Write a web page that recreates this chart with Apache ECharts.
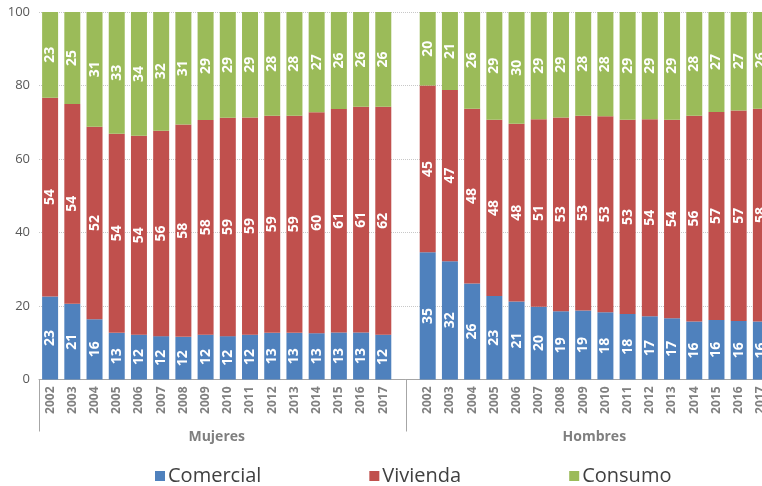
<!DOCTYPE html>
<html>
<head>
<meta charset="utf-8">
<script src="https://cdn.jsdelivr.net/npm/echarts@6/dist/echarts.min.js"></script>
<style>
  html, body { margin: 0; padding: 0; background: #fff; overflow: hidden; }
  /* el gráfico original está recortado por la derecha */
  #chart { width: 772px; height: 486px; }
</style>
</head>
<body>
<div id="chart"></div>
<script>
// años (eje de categorías) y grupos
const years = ['2002', '2003', '2004', '2005', '2006', '2007', '2008', '2009',
  '2010', '2011', '2012', '2013', '2014', '2015', '2016', '2017']
const groups = ['Mujeres', 'Hombres']
const seriesNames = ['Comercial', 'Vivienda', 'Consumo']
const yTicks = [0, 20, 40, 60, 80, 100]

// % del saldo
const mujComercial = [22.6, 20.6, 16.4, 12.7, 12.2, 11.8, 11.6, 12.2, 11.8, 12.2, 12.7, 12.7, 12.6, 12.8, 12.8, 12.2]
const mujVivienda = [54.1, 54.4, 52.4, 54.2, 54.1, 55.9, 57.8, 58.4, 59.4, 59.1, 59.1, 59.1, 60.1, 60.8, 61.4, 62.0]
const mujConsumo = [23.3, 25.0, 31.2, 33.1, 33.7, 32.3, 30.6, 29.4, 28.8, 28.7, 28.2, 28.2, 27.3, 26.4, 25.8, 25.8]

const homComercial = [34.6, 32.2, 26.1, 22.7, 21.2, 19.8, 18.6, 18.8, 18.3, 17.8, 17.2, 16.7, 15.8, 16.2, 15.9, 15.8]
const homVivienda = [45.4, 46.6, 47.6, 48.0, 48.4, 51.0, 52.7, 53.0, 53.3, 52.9, 53.6, 54.0, 56.0, 56.6, 57.3, 57.9]
const homConsumo = [20.0, 21.2, 26.3, 29.3, 30.4, 29.2, 28.7, 28.2, 28.4, 29.3, 29.2, 29.3, 28.2, 27.2, 26.8, 26.3]

const colors = ['#4f81bd', '#c0504d', '#9bbb59']
const font = 'Open Sans'

// un hueco entre los dos grupos
const categories = [...years, '', ...years]
const join = (a, b) => [...a, '-', ...b]
const seriesData = [
  join(mujComercial, homComercial),
  join(mujVivienda, homVivienda),
  join(mujConsumo, homConsumo)
]

const chart = echarts.init(document.getElementById('chart'))

chart.setOption({
  animation: false,
  color: colors,
  textStyle: { fontFamily: font },
  grid: { left: 39, right: 0, top: 12, bottom: 106.5 },
  legend: {
    data: seriesNames,
    left: 150,
    top: 461,
    icon: 'rect',
    itemWidth: 10,
    itemHeight: 10,
    itemGap: 108,
    textStyle: { fontSize: 20, color: '#404040', fontFamily: font, padding: [0, 0, 0, -2] }
  },
  xAxis: {
    type: 'category',
    data: categories,
    axisLine: { lineStyle: { color: '#a6a6a6', width: 1 } },
    axisTick: { show: false },
    axisLabel: {
      rotate: 90,
      interval: 0,
      margin: 7,
      fontSize: 12,
      fontWeight: 'bold',
      color: '#7f7f7f'
    }
  },
  yAxis: {
    type: 'value',
    min: yTicks[0],
    max: yTicks[yTicks.length - 1],
    interval: 20,
    axisLine: { show: false },
    axisTick: { show: false },
    axisLabel: { margin: 9, fontSize: 13, color: '#595959' },
    splitLine: { lineStyle: { type: 'dotted', color: '#c8c8c8' } }
  },
  series: seriesNames.map((name, i) => ({
    name,
    type: 'bar',
    stack: 'total',
    data: seriesData[i],
    barCategoryGap: '28%',
    label: {
      show: true,
      position: 'inside',
      rotate: 90,
      color: '#fff',
      fontWeight: 'bold',
      fontSize: 14,
      formatter: p => Math.round(p.value)
    }
  }))
})

// títulos de grupo y líneas separadoras, situados con la escala del eje
const px = idx => chart.convertToPixel({ xAxisIndex: 0 }, idx)
const y0 = chart.convertToPixel({ yAxisIndex: 0 }, 0)
const half = (px(1) - px(0)) / 2
const sepX = [px(0) - half, px(16), px(32) + half]
const centers = [(px(7) + px(8)) / 2, (px(24) + px(25)) / 2]

chart.setOption({
  graphic: [
    ...sepX.map(x => ({
      type: 'line',
      shape: { x1: Math.round(x) + 0.5, y1: y0, x2: Math.round(x) + 0.5, y2: y0 + 52 },
      style: { stroke: '#a6a6a6', lineWidth: 1 },
      silent: true
    })),
    ...groups.map((g, i) => ({
      type: 'text',
      x: centers[i],
      y: y0 + 51,
      style: {
        text: g,
        fill: '#7f7f7f',
        font: 'bold 14px "' + font + '"',
        textAlign: 'center',
        textVerticalAlign: 'top'
      },
      silent: true
    }))
  ]
})
</script>
</body>
</html>
